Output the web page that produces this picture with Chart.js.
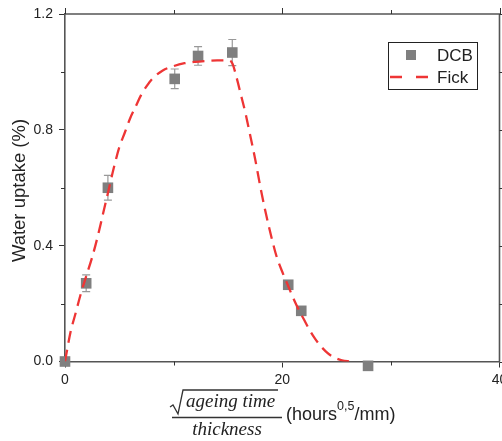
<!DOCTYPE html>
<html>
<head>
<meta charset="utf-8">
<script src="https://cdn.jsdelivr.net/npm/chart.js@4.4.1/dist/chart.umd.min.js"></script>
<style>
  html, body { margin: 0; padding: 0; background: #fff; }
  #wrap { width: 502px; height: 441px; position: relative; }
</style>
</head>
<body>
<div id="wrap"><canvas id="chart"></canvas></div>
<script>
// Data
const dcbX = [0, 1.95, 3.95, 10.1, 12.25, 15.4, 20.55, 21.75, 27.9];
const dcbY = [0.0, 0.27, 0.60, 0.976, 1.055, 1.067, 0.265, 0.175, -0.015];
const dcbErr = [0, 0.029, 0.043, 0.034, 0.032, 0.045, 0, 0, 0];

const fickX = [0, 0.5, 1, 1.5, 2, 2.5, 3, 3.5, 4, 4.5, 5, 5.5, 6, 6.5, 7, 7.5, 8, 9, 10, 11, 12, 13, 14, 15,
               15.4, 15.8, 16.2, 16.6, 17, 17.5, 18, 18.5, 19, 19.5, 20, 20.5, 21, 21.5, 22, 22.5, 23, 23.5,
               24, 24.5, 25, 25.5, 26, 26.5];
const fickY = [0, 0.1, 0.17, 0.24, 0.30, 0.36, 0.43, 0.51, 0.59, 0.67, 0.74, 0.79, 0.84, 0.88, 0.92, 0.95, 0.975,
               1.005, 1.02, 1.03, 1.035, 1.038, 1.04, 1.04,
               1.03, 0.98, 0.92, 0.86, 0.79, 0.7, 0.6, 0.51, 0.43, 0.36, 0.31, 0.265, 0.22, 0.18, 0.145, 0.11,
               0.08, 0.055, 0.035, 0.02, 0.01, 0.004, 0.001, 0];

const seriesNames = ['DCB', 'Fick'];
const xTicks = [0, 20, 40];
const yTicks = [0.0, 0.4, 0.8, 1.2];

const FONT = '"Liberation Sans", Arial, sans-serif';
const SERIF = '"Liberation Serif", "Times New Roman", serif';
const GREY = '#7f7f7f';
const RED = '#ee3535';
const AXIS = '#555';

// Barres d'erreur + axes secondaires + titres
const extras = {
    id: 'extras',
    beforeDatasetsDraw(chart) {
        const ctx = chart.ctx;
        const xs = chart.scales.x, ys = chart.scales.y;
        ctx.save();
        ctx.strokeStyle = '#999';
        ctx.lineWidth = 1.2;
        dcbX.forEach((x, i) => {
            if (!dcbErr[i]) return;
            const px = xs.getPixelForValue(x);
            const top = ys.getPixelForValue(dcbY[i] + dcbErr[i]);
            const bot = ys.getPixelForValue(dcbY[i] - dcbErr[i]);
            ctx.beginPath();
            ctx.moveTo(px, top); ctx.lineTo(px, bot);
            ctx.moveTo(px - 4, top); ctx.lineTo(px + 4, top);
            ctx.moveTo(px - 4, bot); ctx.lineTo(px + 4, bot);
            ctx.stroke();
        });
        ctx.restore();
    },
    afterDraw(chart) {
        const ctx = chart.ctx;
        const a = chart.chartArea;
        const xs = chart.scales.x, ys = chart.scales.y;
        ctx.save();

        // cadre haut / droite
        ctx.strokeStyle = AXIS;
        ctx.lineWidth = 1.6;
        ctx.beginPath();
        ctx.moveTo(a.left, a.top); ctx.lineTo(a.right, a.top); ctx.lineTo(a.right, a.bottom);
        ctx.stroke();

        // ticks
        ctx.lineWidth = 1;
        ctx.strokeStyle = '#333';
        ctx.beginPath();
        for (let v = 0; v <= 40; v += 10) {
            const px = Math.round(xs.getPixelForValue(v)) + 0.5;
            const len = v % 20 === 0 ? 6 : 4;
            if (v % 20 !== 0) { ctx.moveTo(px, a.bottom); ctx.lineTo(px, a.bottom + len); }
            ctx.moveTo(px, a.top); ctx.lineTo(px, a.top - len);
        }
        for (let k = 0; k <= 6; k++) {
            const v = k * 0.2;
            const py = Math.round(ys.getPixelForValue(v)) + 0.5;
            const len = k % 2 === 0 ? 6 : 4;
            if (k % 2 !== 0) { ctx.moveTo(a.left, py); ctx.lineTo(a.left - len, py); }
            ctx.moveTo(a.right, py); ctx.lineTo(a.right + len, py);
        }
        ctx.stroke();

        // legende
        ctx.lineWidth = 1;
        ctx.strokeStyle = '#222';
        ctx.strokeRect(388.5, 42.5, 89, 47);
        ctx.fillStyle = GREY;
        ctx.fillRect(406, 50, 10, 10);
        ctx.strokeStyle = RED;
        ctx.lineWidth = 2.5;
        ctx.setLineDash([12, 14]);
        ctx.beginPath(); ctx.moveTo(390, 77); ctx.lineTo(430, 77); ctx.stroke();
        ctx.setLineDash([]);
        ctx.fillStyle = '#222';
        ctx.font = '17px ' + FONT;
        ctx.textBaseline = 'middle';
        ctx.textAlign = 'left';
        ctx.fillText(seriesNames[0], 437, 56);
        ctx.fillText(seriesNames[1], 437, 78);

        // titre y
        ctx.save();
        ctx.translate(20, 190.5);
        ctx.rotate(-Math.PI / 2);
        ctx.textAlign = 'center';
        ctx.font = '18.5px ' + FONT;
        ctx.fillText('Water uptake (%)', 0, 0);
        ctx.restore();

        // titre x : fraction racine(ageing time)/thickness
        ctx.strokeStyle = '#333';
        ctx.lineWidth = 1.3;
        ctx.beginPath();
        ctx.moveTo(170, 407); ctx.lineTo(173, 405); ctx.lineTo(178, 414);
        ctx.lineTo(183, 390); ctx.lineTo(278, 390);
        ctx.moveTo(172, 417.5); ctx.lineTo(282, 417.5);
        ctx.stroke();
        ctx.textBaseline = 'alphabetic';
        ctx.font = 'italic 19px ' + SERIF;
        ctx.textAlign = 'left';
        ctx.fillText('ageing time', 186, 407);
        ctx.textAlign = 'center';
        ctx.fillText('thickness', 227, 435);
        ctx.textAlign = 'left';
        ctx.font = '18px ' + FONT;
        let x = 286;
        ctx.fillText('(hours', x, 420);
        x += ctx.measureText('(hours').width;
        ctx.font = '12.5px ' + FONT;
        ctx.fillText('0,5', x, 410);
        x += ctx.measureText('0,5').width;
        ctx.font = '18px ' + FONT;
        ctx.fillText('/mm)', x, 420);
        ctx.restore();
    }
};

const ctx = document.getElementById('chart').getContext('2d');
const chart = new Chart(ctx, {
    type: 'scatter',
    data: {
        datasets: [
            {
                label: seriesNames[0],
                data: dcbX.map((x, i) => ({ x: x, y: dcbY[i] })),
                pointStyle: 'rect',
                pointRadius: 7.5,
                backgroundColor: GREY,
                borderWidth: 0,
                clip: false,
                order: 1
            },
            {
                label: seriesNames[1],
                data: fickX.map((x, i) => ({ x: x, y: fickY[i] })),
                showLine: true,
                pointRadius: 0,
                borderColor: RED,
                borderWidth: 2.3,
                borderDash: [12, 7],
                cubicInterpolationMode: 'monotone',
                fill: false,
                order: 0
            }
        ]
    },
    options: {
        responsive: true,
        maintainAspectRatio: false,
        animation: false,
        layout: { autoPadding: false, padding: { top: 14, right: 2.5, left: 0, bottom: 0 } },
        scales: {
            x: {
                type: 'linear',
                min: 0,
                max: 40,
                afterBuildTicks: s => { s.ticks = xTicks.map(v => ({ value: v })); },
                ticks: { color: '#222', font: { family: FONT, size: 14 }, padding: 4, maxRotation: 0 },
                grid: { drawOnChartArea: false, tickLength: 6, color: '#333' },
                border: { color: AXIS, width: 1.6 },
                afterFit: s => { s.height = 79.5; s.paddingLeft = 0; s.paddingRight = 0; }
            },
            y: {
                min: 0,
                max: 1.2,
                afterBuildTicks: s => { s.ticks = yTicks.map(v => ({ value: v })); },
                ticks: { color: '#222', font: { family: FONT, size: 14 }, padding: 6,
                         callback: v => Number(v).toFixed(1) },
                grid: { drawOnChartArea: false, tickLength: 6, color: '#333' },
                border: { color: AXIS, width: 1.6 },
                afterFit: s => { s.width = 65; s.paddingTop = 0; s.paddingBottom = 0; }
            }
        },
        plugins: {
            legend: { display: false },
            tooltip: { enabled: false }
        }
    },
    plugins: [extras]
});
</script>
</body>
</html>
